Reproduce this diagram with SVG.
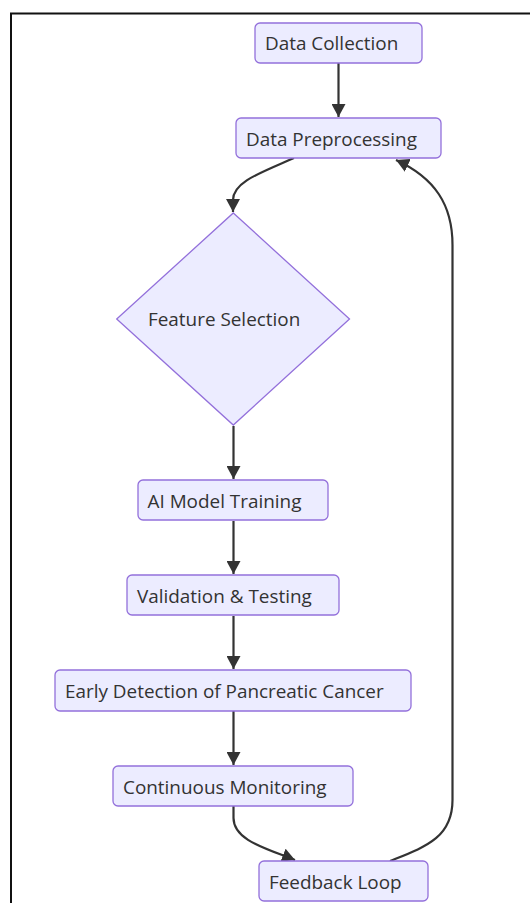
<svg xmlns="http://www.w3.org/2000/svg" width="530" height="903" viewBox="0 0 530 903">
<defs>
<style>
.node rect,.node polygon{fill:#ECECFF;stroke:#9370DB;stroke-width:1.3}
.node text{font-family:"Open Sans","Noto Sans",sans-serif;font-size:18.9px;fill:#333}
.edge{fill:none;stroke:#333;stroke-width:2.2}
</style>
<marker id="ah" markerUnits="userSpaceOnUse" markerWidth="14" markerHeight="14" refX="12" refY="6.5" orient="auto" viewBox="0 0 13 13">
<path d="M0,0 L12,6.5 L0,13 z" fill="#333"/>
</marker>
</defs>
<rect x="11" y="13.5" width="560" height="920" fill="none" stroke="#111" stroke-width="2"/>
<g id="connectors">
<path class="edge" d="M338.5,63 L338.5,117" marker-end="url(#ah)"/>
<path class="edge" d="M294,158 C260,173 233,182 233,200 L233,212" marker-end="url(#ah)"/>
<path class="edge" d="M233.5,426 L233.5,479" marker-end="url(#ah)"/>
<path class="edge" d="M233.5,521 L233.5,574" marker-end="url(#ah)"/>
<path class="edge" d="M233.5,616 L233.5,669" marker-end="url(#ah)"/>
<path class="edge" d="M233.5,711 L233.5,765" marker-end="url(#ah)"/>
<path class="edge" d="M233.5,806 L233.5,818 C233.5,840 265,848 295,860" marker-end="url(#ah)"/>
<path class="edge" d="M390,861 C425,847 452.5,838 452.5,800 L452.5,245 C452.5,205 435,178 396,160" marker-end="url(#ah)"/>
</g>
<g id="n1" class="node"><rect x="255" y="23" width="167" height="40" rx="5"/><text x="265" y="50">Data Collection</text></g>
<g id="n2" class="node"><rect x="236" y="118" width="205" height="40" rx="5"/><text x="246" y="145.5">Data Preprocessing</text></g>
<g id="n3" class="node"><polygon points="233.3,213 349.5,319 233.3,425 116.7,319"/><text x="148" y="326">Feature Selection</text></g>
<g id="n4" class="node"><rect x="138" y="480" width="190" height="40" rx="5"/><text x="147.5" y="508">AI Model Training</text></g>
<g id="n5" class="node"><rect x="127" y="575" width="212" height="40" rx="5"/><text x="137" y="602.5">Validation &amp; Testing</text></g>
<g id="n6" class="node"><rect x="55" y="670" width="356" height="41" rx="5"/><text x="65" y="697.5">Early Detection of Pancreatic Cancer</text></g>
<g id="n7" class="node"><rect x="113" y="766" width="240" height="40" rx="5"/><text x="123" y="793.5">Continuous Monitoring</text></g>
<g id="n8" class="node"><rect x="259" y="861" width="169" height="40" rx="5"/><text x="269" y="888.5">Feedback Loop</text></g>
</svg>
